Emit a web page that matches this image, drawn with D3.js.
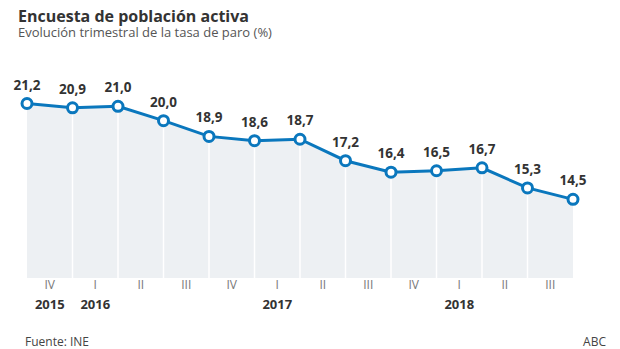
<!DOCTYPE html>
<html>
<head>
<meta charset="utf-8">
<script src="https://cdn.jsdelivr.net/npm/d3@7"></script>
<style>
  body { margin: 0; background: #fff; }
  svg { font-family: "Open Sans", sans-serif; }
</style>
</head>
<body>
<svg id="chart" width="620" height="349"></svg>
<script>
// tasa de paro trimestral, IV 2015 .. III 2018 (13 puntos)
const paro = [21.2, 20.9, 21.0, 20.0, 18.9, 18.6, 18.7, 17.2, 16.4, 16.5, 16.7, 15.3, 14.5];
// etiquetas de trimestre, una por tramo entre puntos
const trimestres = ["IV", "I", "II", "III", "IV", "I", "II", "III", "IV", "I", "II", "III"];
const anios = [
  { tramo: 0, label: "2015" },
  { tramo: 1, label: "2016" },
  { tramo: 5, label: "2017" },
  { tramo: 9, label: "2018" }
];

const svg = d3.select("#chart");
const blue = "#0a77bd";

const x = d3.scaleLinear()
  .domain([0, paro.length - 1])
  .range([27, 573]);

const y = d3.scaleLinear()
  .domain([9, 21.2])
  .range([278, 103.5]);

const base = y.domain()[0];

// area gris bajo la linea
const area = d3.area()
  .x((d, i) => x(i))
  .y0(y(base))
  .y1(d => y(d));

svg.append("path")
  .datum(paro)
  .attr("d", area)
  .attr("fill", "#edf0f3");

// separadores verticales blancos
svg.append("g")
  .selectAll("line")
  .data(paro.slice(1, -1))
  .join("line")
  .attr("x1", (d, i) => x(i + 1))
  .attr("x2", (d, i) => x(i + 1))
  .attr("y1", d => y(d))
  .attr("y2", y(base))
  .attr("stroke", "#fff")
  .attr("stroke-width", 1.5);

const line = d3.line()
  .x((d, i) => x(i))
  .y(d => y(d));

svg.append("path")
  .datum(paro)
  .attr("d", line)
  .attr("fill", "none")
  .attr("stroke", blue)
  .attr("stroke-width", 3);

svg.append("g")
  .selectAll("circle")
  .data(paro)
  .join("circle")
  .attr("cx", (d, i) => x(i))
  .attr("cy", d => y(d))
  .attr("r", 5)
  .attr("fill", "#fff")
  .attr("stroke", blue)
  .attr("stroke-width", 3);

const fmt = d => d3.format(".1f")(d).replace(".", ",");

svg.append("g")
  .selectAll("text")
  .data(paro)
  .join("text")
  .attr("x", (d, i) => x(i))
  .attr("y", d => y(d) - 14)
  .attr("text-anchor", "middle")
  .attr("font-size", 13.5)
  .attr("font-weight", "bold")
  .attr("fill", "#333")
  .text(fmt);

// eje de trimestres, centrados entre puntos
const mid = i => (x(i) + x(i + 1)) / 2;

svg.append("g")
  .selectAll("text")
  .data(trimestres)
  .join("text")
  .attr("x", (d, i) => mid(i))
  .attr("y", 289)
  .attr("text-anchor", "middle")
  .attr("font-size", 12)
  .attr("fill", "#777")
  .text(d => d);

svg.append("g")
  .selectAll("text")
  .data(anios)
  .join("text")
  .attr("x", d => mid(d.tramo))
  .attr("y", 309)
  .attr("text-anchor", "middle")
  .attr("font-size", 13)
  .attr("font-weight", "bold")
  .attr("fill", "#333")
  .text(d => d.label);

// cabecera
svg.append("text")
  .attr("x", 18)
  .attr("y", 22)
  .attr("font-size", 16)
  .attr("font-weight", "bold")
  .attr("fill", "#333")
  .text("Encuesta de población activa");

svg.append("text")
  .attr("x", 18)
  .attr("y", 37)
  .attr("font-size", 13)
  .attr("fill", "#555")
  .text("Evolución trimestral de la tasa de paro (%)");

// pie
svg.append("text")
  .attr("x", 25)
  .attr("y", 346)
  .attr("font-size", 12)
  .attr("fill", "#444")
  .text("Fuente: INE");

svg.append("text")
  .attr("x", 606)
  .attr("y", 346)
  .attr("text-anchor", "end")
  .attr("font-size", 12)
  .attr("fill", "#444")
  .text("ABC");
</script>
</body>
</html>
